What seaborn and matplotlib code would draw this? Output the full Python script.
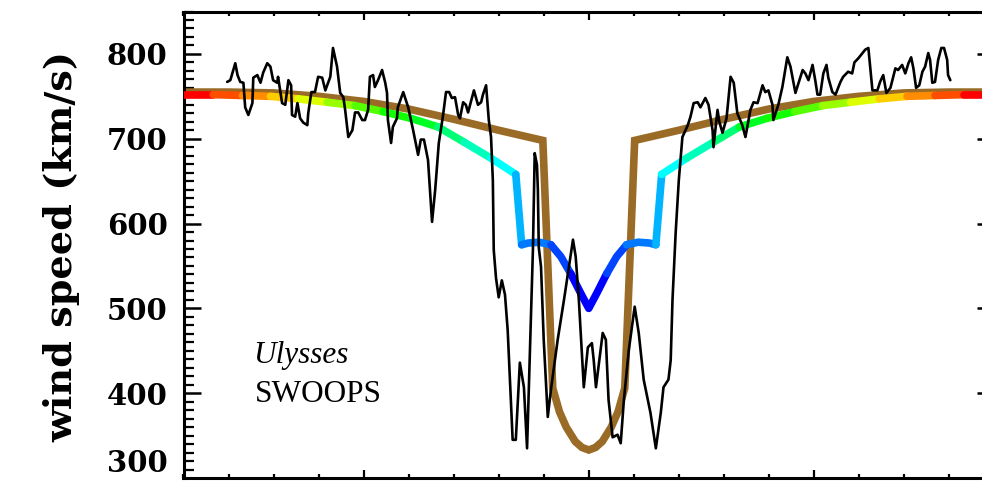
import matplotlib
matplotlib.use("Agg")
import matplotlib.pyplot as plt
import seaborn as sns
from matplotlib.ticker import MultipleLocator

sns.set_theme(style="white")
plt.rcParams['font.family'] = ['DejaVu Serif']
plt.rcParams['text.color'] = 'black'
plt.rcParams['axes.labelcolor'] = 'black'
plt.rcParams['xtick.color'] = 'black'
plt.rcParams['ytick.color'] = 'black'

# ---------------- data ----------------
obs_lat = [-80.3, -79.6, -78.5, -78.0, -77.4, -76.7, -76.3, -75.6, -74.7, -74.5,
           -73.6, -72.9, -72.3, -71.4, -70.7, -70.1, -69.2, -69.0, -68.1, -67.4,
           -66.7, -66.1, -65.9, -65.2, -64.7, -64.1, -63.4, -62.5, -62.3, -61.6,
           -60.8, -60.1, -59.2, -58.5, -57.4, -56.8, -55.9, -55.2, -54.5, -54.1,
           -53.4, -52.5, -51.9, -51.2, -50.3, -49.7, -49.0, -48.6, -47.9, -47.5,
           -46.8, -45.9, -45.2, -44.8, -44.6, -43.9, -43.5, -42.6, -42.4, -41.2,
           -40.1, -39.0, -37.9, -37.3, -36.6, -35.7, -34.8, -34.1, -33.3, -32.4,
           -31.7, -31.0, -30.4, -29.7, -29.0, -28.6, -27.9, -27.3, -26.8, -26.2,
           -25.5, -24.6, -23.9, -23.5, -22.8, -22.2, -21.7, -21.3, -21.1, -20.6,
           -20.0, -19.3, -18.6, -18.0, -16.9, -16.2, -15.3, -14.4, -13.7, -13.3,
           -12.4, -12.2, -12.0, -11.5, -11.3, -11.1, -10.6, -10.0, -9.3, -9.1,
           -8.4, -6.9, -5.5, -4.4, -3.5, -2.9, -2.2, -1.1, -0.2, 0.7,
           1.1, 1.6, 3.1, 3.8, 4.4, 5.3, 6.4, 7.1, 7.8, 8.9,
           10.2, 11.1, 12.2, 13.7, 14.9, 16.0, 16.6, 17.7, 18.2, 18.6,
           19.3, 20.0, 20.8, 22.0, 22.6, 23.3, 24.2, 24.8, 25.9, 26.6,
           27.5, 27.7, 28.6, 29.0, 29.7, 30.6, 31.5, 32.2, 33.0, 34.1,
           34.8, 35.9, 36.6, 37.5, 38.6, 39.2, 39.9, 40.8, 41.0, 42.1,
           43.0, 44.1, 44.8, 45.9, 46.6, 47.5, 48.1, 48.8, 49.7, 50.3,
           50.8, 51.4, 52.1, 52.8, 53.2, 54.1, 54.8, 55.9, 56.5, 57.6,
           58.5, 59.0, 59.9, 60.5, 61.4, 62.1, 62.5, 63.0, 64.1, 64.7,
           65.4, 66.1, 67.0, 68.1, 68.7, 69.6, 70.3, 71.0, 71.6, 72.1,
           72.7, 73.4, 74.1, 74.7, 75.4, 75.8, 76.3, 76.9, 77.6, 78.3,
           78.9, 79.6, 79.8, 80.3]
obs_speed = [767, 769, 789, 775, 767, 766, 737, 728, 742, 772,
             775, 766, 778, 789, 785, 769, 766, 773, 742, 740,
             769, 763, 728, 726, 742, 724, 719, 716, 730, 755,
             755, 773, 772, 757, 773, 807, 785, 754, 749, 734,
             702, 710, 731, 731, 722, 722, 734, 773, 775, 761,
             769, 781, 766, 754, 722, 695, 714, 724, 737, 755,
             737, 710, 681, 699, 699, 675, 602, 640, 695, 726,
             755, 755, 748, 749, 728, 724, 743, 740, 731, 743,
             757, 740, 743, 752, 763, 722, 702, 651, 569, 536,
             513, 533, 516, 474, 345, 345, 436, 407, 335, 407,
             569, 628, 683, 669, 640, 572, 549, 463, 392, 372,
             404, 463, 510, 549, 581, 561, 510, 407, 454, 459,
             439, 407, 471, 463, 392, 348, 351, 341, 392, 451,
             502, 471, 416, 377, 335, 377, 407, 416, 439, 510,
             589, 651, 702, 716, 726, 742, 743, 737, 748, 740,
             710, 690, 734, 720, 707, 724, 773, 766, 730, 716,
             702, 734, 743, 742, 763, 755, 757, 740, 722, 740,
             761, 796, 785, 754, 766, 781, 777, 769, 787, 769,
             752, 752, 777, 787, 772, 755, 752, 767, 773, 779,
             777, 790, 795, 799, 805, 807, 785, 757, 757, 767,
             775, 754, 760, 783, 781, 787, 777, 789, 796, 783,
             760, 763, 779, 785, 801, 793, 766, 767, 793, 807,
             807, 793, 775, 769]

model_lat = [-90, -80, -70, -60, -50, -40, -30, -20, -10.2, -8.0, -6.5, -5.0, -3.0, -1.5, 0.0,
             1.5, 3.0, 5.0, 6.5, 8.0, 10.2, 20, 30, 40, 50, 60, 70, 80, 90]
model_speed = [755, 755, 754, 750, 744, 735, 723, 710, 698, 406, 378, 360, 343, 336, 333,
               336, 343, 360, 378, 406, 698, 710, 723, 735, 744, 750, 754, 755, 755]

rainbow_lat = [-90, -83.4, -76.9, -70.7, -64.5, -58.1, -51.9, -45.7, -39.5, -33.5, -27.7,
               -21.7, -16.2, -14.9, -13.5, -11.0, -8.4, -6.2, -4.0, -1.8, 0.0,
               1.8, 4.0, 6.2, 8.4, 11.0, 13.5, 14.9, 16.2, 21.7, 27.7, 33.5, 39.5,
               45.7, 51.9, 58.1, 64.5, 70.7, 76.9, 83.4, 90]
rainbow_speed = [752, 752, 751, 750, 747, 743, 739, 732, 724, 714, 696,
                 677, 658, 575, 577, 578, 575, 561, 541, 518, 500,
                 518, 541, 561, 575, 578, 577, 575, 658, 677, 696, 714, 724,
                 732, 739, 743, 747, 750, 751, 752, 752]
rainbow_colors = ['#FF0000', '#FF4D00', '#FF8C00', '#FFCC00', '#DDFF00', '#99FF00',
                  '#55FF00', '#11FF00', '#00FF22', '#00FF77', '#00FFBB', '#00FFFF',
                  '#00B4FF', '#0078FF', '#0078FF', '#0078FF', '#0044FF', '#0044FF',
                  '#0000FF', '#0000FF',
                  '#0000FF', '#0000FF', '#0044FF', '#0044FF', '#0078FF', '#0078FF',
                  '#0078FF', '#00B4FF', '#00FFFF', '#00FFBB', '#00FF77', '#00FF22',
                  '#11FF00', '#55FF00', '#99FF00', '#DDFF00', '#FFCC00', '#FF8C00',
                  '#FF4D00', '#FF0000']

yticks = [300, 400, 500, 600, 700, 800]
ytick_labels = ['300', '400', '500', '600', '700', '800']

# ---------------- figure ----------------
W, H = 982, 495
fig = plt.figure(figsize=(W / 100, H / 100), dpi=100)
fig.patch.set_facecolor('white')
ax = fig.add_axes([183.5 / W, 17 / H, (994 - 183.5) / W, (478 - 11.5) / H])
ax.set_facecolor('white')

brown = '#9A6B26'
ax.plot(model_lat, model_speed, color=brown, lw=5.5, solid_joinstyle='miter', zorder=2)

# rainbow model: group consecutive intervals with the same colour
i = 0
n = len(rainbow_colors)
while i < n:
    j = i
    while j + 1 < n and rainbow_colors[j + 1] == rainbow_colors[i]:
        j += 1
    ax.plot(rainbow_lat[i:j + 2], rainbow_speed[i:j + 2], color=rainbow_colors[i],
            lw=5.5, solid_capstyle='round', solid_joinstyle='round', zorder=3)
    i = j + 1

sns.lineplot(x=obs_lat, y=obs_speed, sort=False, estimator=None, color='black',
             lw=1.9, ax=ax, zorder=4)

ax.set_xlim(-90, 90)
ax.set_ylim(300, 850)
ax.set_xlabel('')
ax.set_ylabel('')

ax.xaxis.set_major_locator(MultipleLocator(50))
ax.xaxis.set_minor_locator(MultipleLocator(10))
ax.set_yticks(yticks, labels=ytick_labels)
ax.yaxis.set_minor_locator(MultipleLocator(10))

ax.tick_params(axis='x', which='major', direction='in', length=6, width=1.6,
               top=True, bottom=True, labelbottom=False, colors='black')
ax.tick_params(axis='x', which='minor', direction='in', length=3, width=1.6,
               top=True, bottom=True)
ax.tick_params(axis='y', which='major', direction='in', length=12.5, width=1.8,
               left=True, right=True, pad=11.5, colors='black')
ax.tick_params(axis='y', which='minor', direction='in', length=7, width=1.6,
               left=True, right=True)

for lab in ax.get_yticklabels():
    lab.set_fontsize(21)
    lab.set_fontweight('bold')
    lab.set_family('DejaVu Serif')
    lab.set_color('black')
ax.get_yticklabels()[0].set_va('bottom')

for sp in ax.spines.values():
    sp.set_color('black')
    sp.set_linewidth(2.2)
    sp.set_visible(True)

fig.text(62 / W, 1 - 246 / H, 'wind speed (km/s)', rotation=90, ha='center', va='center',
         fontsize=27.5, fontweight='bold', family='DejaVu Serif', color='black')

ax.text(-74.5, 435.6, 'Ulysses', fontsize=22.5, style='italic', color='black',
        family='Liberation Serif', ha='left', va='baseline')
ax.text(-74.1, 389.6, 'SWOOPS', fontsize=22.5, color='black',
        family='Liberation Serif', ha='left', va='baseline')

fig.savefig('out.png', dpi=100)
